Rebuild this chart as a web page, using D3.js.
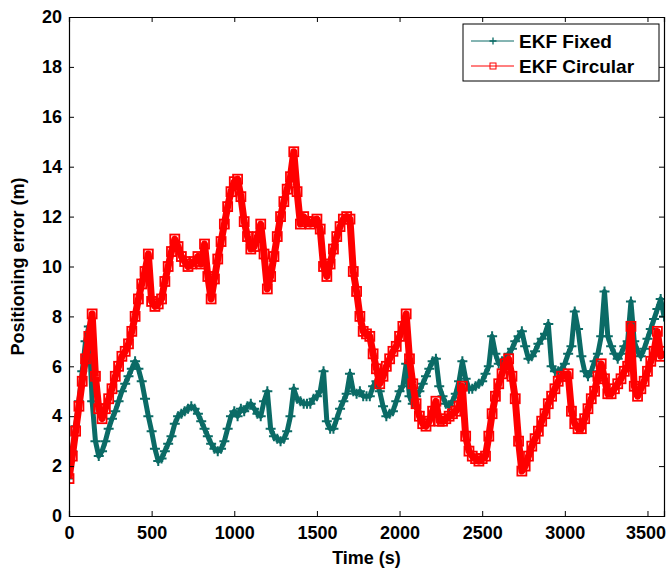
<!DOCTYPE html>
<html>
<head>
<meta charset="utf-8">
<script src="https://cdn.jsdelivr.net/npm/d3@7"></script>
<style>
  body { margin: 0; background: #fff; }
  text { font-family: Arial, "Liberation Sans", Helvetica, sans-serif; font-weight: bold; }
</style>
</head>
<body>
<div id="chart"></div>
<script>
// Positioning error over time (one value every 20 s)
const timeStep = 20;

const ekfFixed = [
  1.5, 2.6, 3.6, 4.6, 5.8, 7.0, 7.6, 4.6, 3.0, 2.4,
  2.6, 3.0, 3.5, 3.9, 4.2, 4.6, 5.0, 5.3, 5.6, 5.9,
  6.2, 5.9, 5.4, 4.7, 4.0, 3.4, 2.7, 2.2, 2.3, 2.6,
  2.9, 3.2, 3.7, 4.0, 4.1, 4.2, 4.3, 4.4, 4.3, 4.1,
  3.8, 3.5, 3.2, 2.9, 2.7, 2.6, 2.7, 3.0, 3.5, 4.0,
  4.2, 4.0, 4.3, 4.2, 4.4, 4.5, 4.3, 4.1, 4.0, 4.6,
  5.0, 3.5, 3.2, 3.1, 3.0, 3.1, 3.4, 4.0, 5.1, 4.7,
  4.6, 4.5, 4.5, 4.5, 4.7, 4.8, 5.0, 5.8, 3.8, 3.5,
  3.5, 3.9, 4.3, 4.6, 4.9, 5.7, 5.0, 4.9, 5.0, 4.8,
  4.8, 4.8, 5.2, 5.4, 5.0, 4.4, 4.0, 4.1, 4.2, 4.6,
  5.0, 5.2, 6.1, 4.8, 4.5, 4.8, 5.0, 5.3, 5.6, 5.9,
  6.2, 6.3, 5.2, 4.8, 4.5, 4.4, 4.6, 4.9, 5.4, 6.2,
  5.5, 5.1, 5.1, 5.2, 5.3, 5.4, 5.7, 6.0, 7.2, 6.5,
  6.1, 6.2, 6.3, 6.5, 6.7, 7.0, 7.2, 7.4, 6.8, 6.3,
  6.4, 6.6, 6.9, 7.1, 7.3, 7.7, 6.0, 5.8, 5.8, 5.9,
  6.1, 6.5, 6.8, 8.2, 7.5, 6.4, 5.8, 5.6, 5.8, 6.2,
  6.5, 7.2, 9.0, 7.2, 6.8, 6.5, 6.3, 6.5, 6.8, 7.0,
  8.6, 7.0, 6.6, 6.4, 6.7, 7.1, 7.5, 7.9, 8.3, 8.7,
  8.0
];

const ekfCircular = [
  1.5, 2.4, 3.4, 4.4, 5.4, 6.3, 7.2, 8.1, 5.6, 4.3,
  3.9, 4.3, 4.7, 5.1, 5.6, 6.0, 6.4, 6.6, 6.9, 7.4,
  8.0, 8.7, 9.3, 9.8, 10.5, 8.6, 8.4, 8.5, 8.7, 9.4,
  10.0, 10.6, 11.1, 10.8, 10.4, 10.2, 10.0, 10.1, 10.2, 10.4,
  10.1, 10.9, 9.6, 8.7, 9.5, 10.3, 11.0, 11.7, 12.4, 13.0,
  13.4, 13.5, 12.8, 11.8, 11.2, 10.7, 10.8, 11.2, 11.7, 10.5,
  9.1, 9.6, 10.4, 11.2, 12.0, 12.6, 13.1, 13.6, 14.6, 13.0,
  11.7, 12.0, 11.8, 11.7, 11.8, 11.9, 11.5, 10.0, 9.6, 10.1,
  10.7, 11.2, 11.6, 11.9, 12.0, 11.9, 9.8, 9.0, 8.0, 7.4,
  7.3, 7.2, 6.5, 5.9, 5.3, 5.6, 6.0, 6.3, 6.6, 6.8,
  7.2, 7.6, 8.1, 6.3, 5.3, 4.5, 4.0, 3.7, 3.6, 3.8,
  4.2, 4.6, 3.8, 3.8, 3.9, 4.0, 4.1, 4.2, 4.4, 5.2,
  3.2, 2.6, 2.4, 2.3, 2.2, 2.3, 2.4, 3.2, 4.1, 4.8,
  5.3, 5.7, 6.1, 6.3, 5.6, 4.7, 3.0, 1.8, 2.0, 2.4,
  2.8, 3.1, 3.4, 3.8, 4.1, 4.5, 4.8, 5.1, 5.4, 5.6,
  5.6, 5.7, 4.2, 3.7, 3.5, 3.5, 3.9, 4.3, 4.7, 5.0,
  5.6, 6.1, 5.5, 4.9, 4.9, 5.1, 5.3, 5.5, 5.8, 6.0,
  7.6, 5.2, 4.8, 5.1, 5.4, 5.8, 6.2, 6.6, 7.4, 6.4,
  6.6
];

const xTicks = [0, 500, 1000, 1500, 2000, 2500, 3000, 3500];
const yTicks = [0, 2, 4, 6, 8, 10, 12, 14, 16, 18, 20];

const seriesNames = ['EKF Fixed', 'EKF Circular'];
const seriesColors = ['#0b6b66', '#ff0000'];

const width = 667;
const height = 569;
const margin = { top: 17, right: 3, bottom: 53, left: 69 };
const innerW = width - margin.left - margin.right;
const innerH = height - margin.top - margin.bottom;

const svg = d3.select('#chart')
  .append('svg')
  .attr('width', width)
  .attr('height', height);

const g = svg.append('g')
  .attr('transform', `translate(${margin.left},${margin.top})`);

const x = d3.scaleLinear().domain([0, 3600]).range([0, innerW]);
const y = d3.scaleLinear().domain([0, 20]).range([innerH, 0]);

const toPoints = values => values.map((v, i) => ({ t: i * timeStep, v }));
const fixedPts = toPoints(ekfFixed);
const circPts = toPoints(ekfCircular);

// Series lines and markers, clipped to the plot box.
// The original has a marker on every sample, so they merge into thick bands.
svg.append('defs').append('clipPath').attr('id', 'plot-clip')
  .append('rect').attr('width', innerW).attr('height', innerH);
const plot = g.append('g').attr('clip-path', 'url(#plot-clip)');

const line = d3.line().x(d => x(d.t)).y(d => y(d.v));
const plusPath = 'M-5,0H5M0,-5V5';
const legendPlus = 'M-3.5,0H3.5M0,-3.5V3.5';

plot.append('path')
  .datum(fixedPts)
  .attr('fill', 'none')
  .attr('stroke', seriesColors[0])
  .attr('stroke-width', 5)
  .attr('stroke-linejoin', 'round')
  .attr('d', line);

plot.selectAll('.mark-fixed')
  .data(fixedPts)
  .join('path')
  .attr('class', 'mark-fixed')
  .attr('transform', d => `translate(${x(d.t)},${y(d.v)})`)
  .attr('d', plusPath)
  .attr('stroke', seriesColors[0])
  .attr('stroke-width', 2)
  .attr('fill', 'none');

plot.append('path')
  .datum(circPts)
  .attr('fill', 'none')
  .attr('stroke', seriesColors[1])
  .attr('stroke-width', 7)
  .attr('stroke-linejoin', 'round')
  .attr('d', line);

plot.selectAll('.mark-circ')
  .data(circPts)
  .join('rect')
  .attr('class', 'mark-circ')
  .attr('x', d => x(d.t) - 4.5)
  .attr('y', d => y(d.v) - 4.5)
  .attr('width', 9)
  .attr('height', 9)
  .attr('fill', 'none')
  .attr('stroke', seriesColors[1])
  .attr('stroke-width', 1.8);

// Axes: ticks point inward, on all four sides like a matlab box
const tickLen = 5;
g.append('g')
  .attr('class', 'x-axis')
  .attr('transform', `translate(0,${innerH})`)
  .call(d3.axisBottom(x).tickValues(xTicks).tickFormat(d3.format('d')).tickSize(-tickLen).tickPadding(tickLen + 5));
g.append('g')
  .attr('class', 'x-axis-top')
  .call(d3.axisTop(x).tickValues(xTicks).tickSize(-tickLen).tickFormat(''));
g.append('g')
  .attr('class', 'y-axis')
  .call(d3.axisLeft(y).tickValues(yTicks).tickSize(-tickLen).tickPadding(tickLen + 2));
g.append('g')
  .attr('class', 'y-axis-right')
  .attr('transform', `translate(${innerW},0)`)
  .call(d3.axisRight(y).tickValues(yTicks).tickSize(-tickLen).tickFormat(''));

g.selectAll('.domain').attr('stroke', '#000').attr('stroke-width', 1.2);
g.selectAll('.tick line').attr('stroke', '#000').attr('stroke-width', 1);
g.selectAll('.tick text')
  .attr('fill', '#000')
  .style('font-size', '18px');
// last x label sits against the right edge, as in the original
g.selectAll('.x-axis .tick text')
  .filter(d => d === 3500)
  .attr('dx', -2);

// Axis titles
svg.append('text')
  .attr('x', margin.left + innerW / 2)
  .attr('y', 564)
  .attr('text-anchor', 'middle')
  .style('font-size', '18px')
  .text('Time (s)');

svg.append('text')
  .attr('transform', `translate(24,${margin.top + innerH / 2}) rotate(-90)`)
  .attr('text-anchor', 'middle')
  .style('font-size', '18px')
  .text('Positioning error (m)');

// Legend
const legend = svg.append('g').attr('transform', 'translate(463,24)');
legend.append('rect')
  .attr('width', 196)
  .attr('height', 57)
  .attr('fill', '#fff')
  .attr('stroke', '#000')
  .attr('stroke-width', 1);

seriesNames.forEach((name, i) => {
  const row = legend.append('g').attr('transform', `translate(0,${17 + i * 25})`);
  row.append('line')
    .attr('x1', 8).attr('x2', 51)
    .attr('stroke', seriesColors[i])
    .attr('stroke-width', 1);
  if (i === 0) {
    row.append('path')
      .attr('transform', 'translate(30,0)')
      .attr('d', legendPlus)
      .attr('stroke', seriesColors[i])
      .attr('stroke-width', 1.3);
  } else {
    row.append('rect')
      .attr('x', 27).attr('y', -3)
      .attr('width', 6).attr('height', 6)
      .attr('fill', 'none')
      .attr('stroke', seriesColors[i]);
  }
  row.append('text')
    .attr('x', 56)
    .attr('y', 7)
    .style('font-size', '19px')
    .text(name);
});
</script>
</body>
</html>
